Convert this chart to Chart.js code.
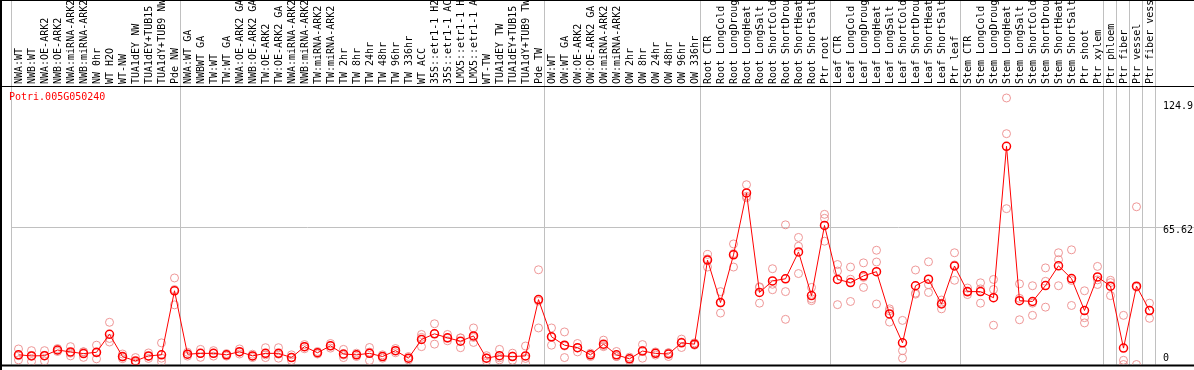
<!DOCTYPE html>
<html>
<head>
<meta charset="utf-8">
<title>Potri.005G050240</title>
<script src="https://cdn.jsdelivr.net/npm/chart.js@4.4.0/dist/chart.umd.min.js"></script>
<style>
  body { margin: 0; background: #fff; }
  #grafico { display: block; }
</style>
</head>
<body>
<canvas id="grafico" width="1194" height="370"></canvas>
<script>
let gen = "Potri.005G050240";

let muestras = [
  "NWA:WT", "NWB:WT", "NWA:OE-ARK2", "NWB:OE-ARK2", "NWA:miRNA-ARK2", "NWB:miRNA-ARK2",
  "NW 0hr", "WT H2O", "WT-NW", "TUA1dEY NW", "TUA1dEY+TUB15", "TUA1dY+TUB9 NW", "Pde NW",
  "NWA:WT GA", "NWBWT GA", "TW:WT", "TW:WT GA", "NWA:OE-ARK2 GA", "NWB:OE-ARK2 GA",
  "TW:OE-ARK2", "TW:OE-ARK2 GA", "NWA:miRNA-ARK2", "NWB:miRNA-ARK2", "TW:miRNA-ARK2",
  "TW:miRNA-ARK2", "TW 2hr", "TW 8hr", "TW 24hr", "TW 48hr", "TW 96hr", "TW 336hr",
  "WT ACC", "35S::etr1-1 H2O", "35S::etr1-1 ACC", "LMX5::etr1-1 H2O", "LMX5::etr1-1 ACC",
  "WT-TW", "TUA1dEY TW", "TUA1dEY+TUB15", "TUA1dY+TUB9 TW", "Pde TW",
  "OW:WT", "OW:WT GA", "OW:OE-ARK2", "OW:OE-ARK2 GA", "OW:miRNA-ARK2", "OW:miRNA-ARK2",
  "OW 2hr", "OW 8hr", "OW 24hr", "OW 48hr", "OW 96hr", "OW 336hr",
  "Root CTR", "Root LongCold", "Root LongDrought", "Root LongHeat", "Root LongSalt",
  "Root ShortCold", "Root ShortDrought", "Root ShortHeat", "Root ShortSalt", "Ptr root",
  "Leaf CTR", "Leaf LongCold", "Leaf LongDrought", "Leaf LongHeat", "Leaf LongSalt",
  "Leaf ShortCold", "Leaf ShortDrought", "Leaf ShortHeat", "Leaf ShortSalt", "Ptr leaf",
  "Stem CTR", "Stem LongCold", "Stem LongDrought", "Stem LongHeat", "Stem LongSalt",
  "Stem ShortCold", "Stem ShortDrought", "Stem ShortHeat", "Stem ShortSalt", "Ptr shoot",
  "Ptr xylem", "Ptr phloem", "Ptr fiber", "Ptr vessel", "Ptr fiber vessel"
];

// promedio por muestra
let promedios = [
  4.6, 4.1, 4.2, 6.9, 6.0, 5.2, 5.8, 14.4, 3.8, 1.7, 4.1, 4.6, 35.1,
  4.9, 5.3, 5.3, 4.6, 6.1, 4.1, 5.3, 5.3, 3.3, 8.5, 5.6, 8.9, 5.0, 4.6, 5.3, 3.8, 6.6, 3.0,
  11.9, 14.6, 12.7, 11.1, 13.6, 3.0, 4.2, 3.8, 4.1, 30.9,
  13.2, 9.2, 8.0, 4.6, 9.7, 4.6, 2.7, 6.4, 5.3, 5.0, 10.3, 9.7,
  49.7, 29.5, 52.2, 81.7, 34.3, 39.8, 40.8, 53.6, 32.8, 66.2,
  40.5, 39.0, 42.2, 44.2, 24.1, 10.3, 37.5, 40.6, 28.8, 46.9,
  34.7, 34.7, 31.8, 103.9, 30.4, 30.0, 37.6, 47.0, 40.9, 25.7,
  41.7, 37.3, 7.8, 37.3, 25.7
];

// replicas
let repA = [
  7.4, 6.6, 6.6, 7.6, 8.5, 6.1, 9.2, 20.1, 5.0, 3.3, 5.5, 10.3, 41.2,
  5.8, 7.2, 6.6, 5.2, 7.4, 4.9, 8.0, 8.0, 4.6, 9.5, 6.2, 10.0, 7.2, 5.4, 8.1, 4.6, 7.6, 3.8,
  14.3, 19.4, 14.3, 12.7, 17.4, 4.2, 7.2, 5.4, 8.8, 45.1,
  17.4, 15.5, 10.0, 5.4, 11.6, 6.2, 3.5, 9.5, 6.0, 5.6, 10.7, 10.3,
  52.4, 34.7, 57.4, 85.6, 36.7, 45.6, 66.5, 60.5, 36.7, 71.5,
  47.6, 46.4, 48.4, 54.4, 26.5, 21.0, 45.0, 48.9, 30.7, 53.2,
  36.4, 38.9, 40.5, 126.9, 38.4, 37.5, 46.0, 53.2, 54.6, 35.1,
  46.7, 40.1, 23.4, 75.1, 29.2
];
let repB = [
  2.2, 1.4, 1.7, 6.2, 4.1, 3.4, 2.7, 10.7, 2.8, 0.6, 2.9, 1.4, 28.4,
  4.0, 3.4, 4.0, 4.0, 5.0, 3.3, 3.3, 3.0, 1.9, 7.5, 5.0, 7.8, 3.3, 3.8, 1.9, 3.0, 5.6, 2.2,
  8.5, 9.7, 11.3, 8.0, 10.5, 1.7, 2.2, 2.0, 0.6, 17.4,
  9.2, 3.3, 6.0, 3.8, 8.5, 3.8, 1.9, 3.0, 4.5, 3.8, 8.1, 9.2,
  46.4, 24.5, 46.4, 80.1, 29.2, 35.6, 21.5, 43.3, 30.4, 58.7,
  28.5, 30.0, 36.7, 28.8, 20.2, 3.0, 33.5, 34.3, 26.5, 40.1,
  33.3, 29.2, 18.7, 74.2, 21.3, 23.4, 27.3, 37.5, 28.1, 19.8,
  38.1, 32.8, 0.0, 0.0, 22.0
];
let repC = [
  4.2, 4.3, 4.3, 6.9, 5.4, 6.0, 5.5, 12.4, 3.6, 1.2, 3.9, 3.0, 35.7,
  4.9, 5.3, 5.3, 4.6, 5.9, 4.1, 4.6, 4.9, 3.4, 8.5, 5.6, 8.9, 4.5, 4.6, 5.9, 3.8, 6.6, 3.0,
  12.9, 14.7, 12.5, 12.6, 12.9, 3.1, 3.2, 4.0, 2.9, 30.2,
  13.0, 8.8, 8.0, 4.6, 9.0, 3.8, 2.7, 6.7, 5.4, 5.6, 12.1, 9.6,
  50.3, 29.3, 52.8, 79.4, 37.0, 38.2, 34.7, 56.3, 31.3, 69.6,
  44.5, 40.6, 41.5, 48.8, 25.6, 6.6, 34.0, 38.0, 29.2, 47.4,
  34.4, 36.0, 35.7, 109.9, 31.5, 29.2, 39.6, 49.9, 40.0, 22.3,
  40.3, 39.0, 2.0, 36.8, 25.9
];

// marcas del eje derecho
let marcasY = [0, 65.62, 124.9];
// divisiones entre grupos de muestras (indice del primer elemento de cada grupo)
let cortes = [0, 13, 41, 53, 63, 73, 84, 85, 86, 87, 88];

const fuente = "DejaVu Sans Mono, Liberation Mono, monospace";
const rosa = "rgba(236,140,140,0.9)";

// replicas como puntos sueltos, sin linea
function replica(nombre, valores) {
  return {
    label: nombre,
    data: valores,
    showLine: false,
    pointRadius: 4,
    pointBorderWidth: 1,
    pointBorderColor: rosa,
    pointBackgroundColor: "rgba(0,0,0,0)"
  };
}

const marco = {
  id: "marco",
  beforeDatasetsDraw(chart) {
    const ctx = chart.ctx;
    const xs = chart.scales.x;
    const ys = chart.scales.y;
    const area = chart.chartArea;
    const paso = xs.getPixelForValue(1) - xs.getPixelForValue(0);
    ctx.save();
    // lineas verticales grises
    ctx.strokeStyle = "#c0c0c0";
    ctx.lineWidth = 1;
    cortes.forEach(function (c) {
      let px = Math.round(xs.getPixelForValue(c) - paso / 2) - 0.5;
      ctx.beginPath();
      ctx.moveTo(px, 0);
      ctx.lineTo(px, area.bottom);
      ctx.stroke();
    });
    // linea horizontal de 65.62
    marcasY.forEach(function (v) {
      if (v === 0 || v === 124.9) return;
      let py = Math.round(ys.getPixelForValue(v)) + 0.5;
      ctx.beginPath();
      ctx.moveTo(area.left, py);
      ctx.lineTo(chart.width, py);
      ctx.stroke();
    });
    // bordes negros
    ctx.fillStyle = "#000";
    ctx.fillRect(0, 0, chart.width, 1);
    ctx.fillRect(0, 0, 2, chart.height);
    ctx.fillRect(0, area.top, chart.width, 1);
    ctx.fillRect(0, area.bottom, chart.width, 2);
    // textos del eje y
    ctx.font = "10px " + fuente;
    ctx.textAlign = "left";
    ctx.textBaseline = "middle";
    marcasY.forEach(function (v) {
      let py = ys.getPixelForValue(v);
      ctx.fillText(String(v), area.right + 7, v === 0 ? py - 6 : py + 4);
    });
    // nombre del gen
    ctx.fillStyle = "#ff0000";
    ctx.fillText(gen, area.left - 3, area.top + 11);
    ctx.restore();
  }
};

new Chart("grafico", {
  type: "line",
  data: {
    labels: muestras,
    datasets: [{
      label: "promedio",
      data: promedios,
      borderColor: "#ff0000",
      borderWidth: 1,
      pointRadius: 4,
      pointBorderWidth: 1.5,
      pointBorderColor: "#ff0000",
      pointBackgroundColor: "rgba(0,0,0,0)",
      tension: 0
    },
    replica("rep1", repA),
    replica("rep2", repB),
    replica("rep3", repC)]
  },
  options: {
    responsive: false,
    animation: false,
    devicePixelRatio: 1,
    layout: { padding: { left: 12, right: 38, top: 0, bottom: 2 } },
    plugins: {
      legend: { display: false },
      tooltip: { enabled: false },
      title: { display: false }
    },
    scales: {
      x: {
        type: "category",
        position: "top",
        offset: true,
        grid: { display: false, drawTicks: false },
        border: { display: false },
        ticks: {
          autoSkip: false,
          minRotation: 90,
          maxRotation: 90,
          padding: 2,
          labelOffset: 13,
          color: "#000",
          font: { family: fuente, size: 10 }
        },
        afterFit: function (scale) { scale.height = 86; }
      },
      y: {
        display: false,
        min: 0,
        max: 132.6
      }
    }
  },
  plugins: [marco]
});
</script>
</body>
</html>
